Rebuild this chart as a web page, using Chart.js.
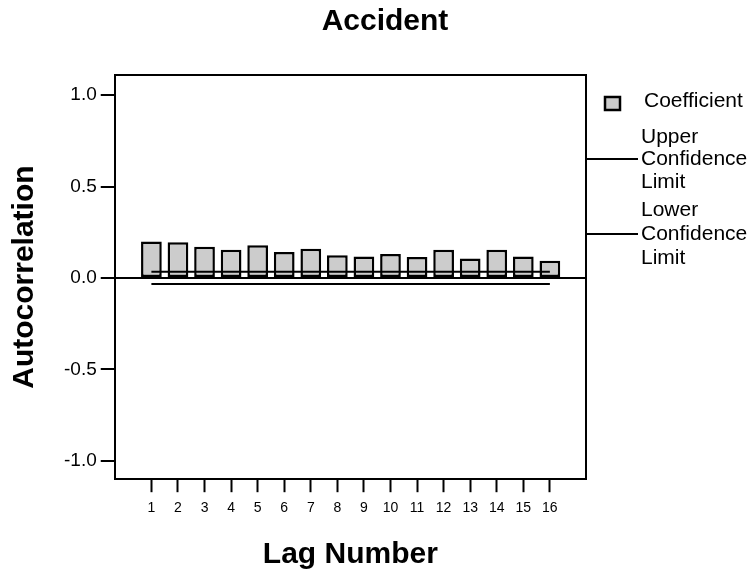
<!DOCTYPE html>
<html>
<head>
<meta charset="utf-8">
<script src="https://cdn.jsdelivr.net/npm/chart.js@4"></script>
<style>
  html, body { margin: 0; padding: 0; background: #fff; }
  #wrap { width: 756px; height: 579px; }
</style>
</head>
<body>
<div id="wrap"><canvas id="chart"></canvas></div>
<script>
// ラグ番号
const lags = [1, 2, 3, 4, 5, 6, 7, 8, 9, 10, 11, 12, 13, 14, 15, 16];
// 自己相関係数
const coefficient = [0.199, 0.195, 0.171, 0.155, 0.179, 0.142, 0.160, 0.124,
                     0.117, 0.131, 0.115, 0.155, 0.107, 0.155, 0.117, 0.095];
// 信頼限界
const upperLimit = [0.034, 0.034, 0.034, 0.034, 0.034, 0.034, 0.034, 0.034,
                    0.034, 0.034, 0.034, 0.034, 0.034, 0.034, 0.034, 0.034];
const lowerLimit = [-0.033, -0.033, -0.033, -0.033, -0.033, -0.033, -0.033, -0.033,
                    -0.033, -0.033, -0.033, -0.033, -0.033, -0.033, -0.033, -0.033];
// 軸の目盛り
const yTicks = [-1.0, -0.5, 0.0, 0.5, 1.0];

const FONT = '"Liberation Sans", Arial, sans-serif';

// タイトル、プロット枠（上・右）と凡例
const framePlugin = {
  id: 'frame',
  afterDraw(chart) {
    const { ctx, chartArea } = chart;
    const r = chartArea.right;
    ctx.save();

    // タイトル
    ctx.fillStyle = '#000';
    ctx.font = 'bold 30px ' + FONT;
    ctx.textAlign = 'center';
    ctx.textBaseline = 'middle';
    ctx.fillText('Accident', 385, 22);

    ctx.strokeStyle = '#000';
    ctx.lineWidth = 2;
    ctx.beginPath();
    ctx.moveTo(chartArea.left, chartArea.top);
    ctx.lineTo(r, chartArea.top);
    ctx.lineTo(r, chartArea.bottom);
    ctx.stroke();

    // 凡例
    ctx.font = '21px ' + FONT;
    ctx.textAlign = 'left';

    ctx.fillStyle = '#cccccc';
    ctx.fillRect(605, 97, 15, 13);
    ctx.lineWidth = 2.5;
    ctx.strokeRect(605, 97, 15, 13);
    ctx.lineWidth = 2;
    ctx.fillStyle = '#000';
    ctx.fillText('Coefficient', 644, 101);

    const items = [
      { lines: ['Upper', 'Confidence', 'Limit'], ys: [137, 159, 182] },
      { lines: ['Lower', 'Confidence', 'Limit'], ys: [210, 234, 258] }
    ];
    items.forEach(it => {
      it.lines.forEach((t, i) => ctx.fillText(t, 641, it.ys[i]));
      ctx.beginPath();
      ctx.moveTo(r, it.ys[1]);
      ctx.lineTo(638, it.ys[1]);
      ctx.stroke();
    });
    ctx.restore();
  }
};

const ctx = document.getElementById('chart').getContext('2d');
new Chart(ctx, {
  data: {
    datasets: [
      {
        type: 'line',
        label: 'Upper Confidence Limit',
        data: lags.map((l, i) => ({ x: l, y: upperLimit[i] })),
        borderColor: '#000',
        borderWidth: 2,
        pointRadius: 0,
        order: 0
      },
      {
        type: 'line',
        label: 'Lower Confidence Limit',
        data: lags.map((l, i) => ({ x: l, y: lowerLimit[i] })),
        borderColor: '#000',
        borderWidth: 2,
        pointRadius: 0,
        order: 0
      },
      {
        type: 'bar',
        label: 'Coefficient',
        data: lags.map((l, i) => ({ x: l, y: coefficient[i] })),
        backgroundColor: '#cccccc',
        borderColor: '#000',
        borderWidth: 2.5,
        borderSkipped: false,
        barPercentage: 0.78,
        categoryPercentage: 1.0,
        order: 1
      }
    ]
  },
  options: {
    responsive: true,
    maintainAspectRatio: false,
    animation: false,
    layout: { padding: { left: 5, right: 170, top: 75, bottom: 2 } },
    plugins: {
      legend: { display: false },
      tooltip: { enabled: false },
      title: { display: false }
    },
    scales: {
      x: {
        type: 'linear',
        offset: false,
        min: -0.38,
        max: 17.36,
        afterBuildTicks: (scale) => { scale.ticks = lags.map(v => ({ value: v })); },
        grid: { offset: false, drawOnChartArea: false, drawTicks: true, tickLength: 13, tickColor: '#000', tickWidth: 2 },
        border: { display: true, color: '#000', width: 2 },
        ticks: { color: '#000', padding: 8, font: { family: FONT, size: 14 }, autoSkip: false, maxRotation: 0 },
        title: {
          display: true,
          text: 'Lag Number',
          color: '#000',
          font: { family: FONT, size: 30, weight: 'bold' },
          padding: { top: 12, bottom: 4 }
        }
      },
      y: {
        min: -1.1,
        max: 1.11,
        afterBuildTicks: (scale) => { scale.ticks = yTicks.map(v => ({ value: v })); },
        grid: {
          color: (c) => (c.tick && c.tick.value === 0) ? '#000' : 'rgba(0,0,0,0)',
          lineWidth: 2,
          drawTicks: true,
          tickLength: 14,
          tickColor: '#000',
          tickWidth: 2
        },
        border: { display: true, color: '#000', width: 2 },
        ticks: {
          color: '#000',
          padding: 4,
          font: { family: FONT, size: 19 },
          callback: (v) => Number(v).toFixed(1)
        },
        title: {
          display: true,
          text: 'Autocorrelation',
          color: '#000',
          font: { family: FONT, size: 30, weight: 'bold' },
          padding: { top: 2, bottom: 17 }
        }
      }
    }
  },
  plugins: [framePlugin]
});
</script>
</body>
</html>
